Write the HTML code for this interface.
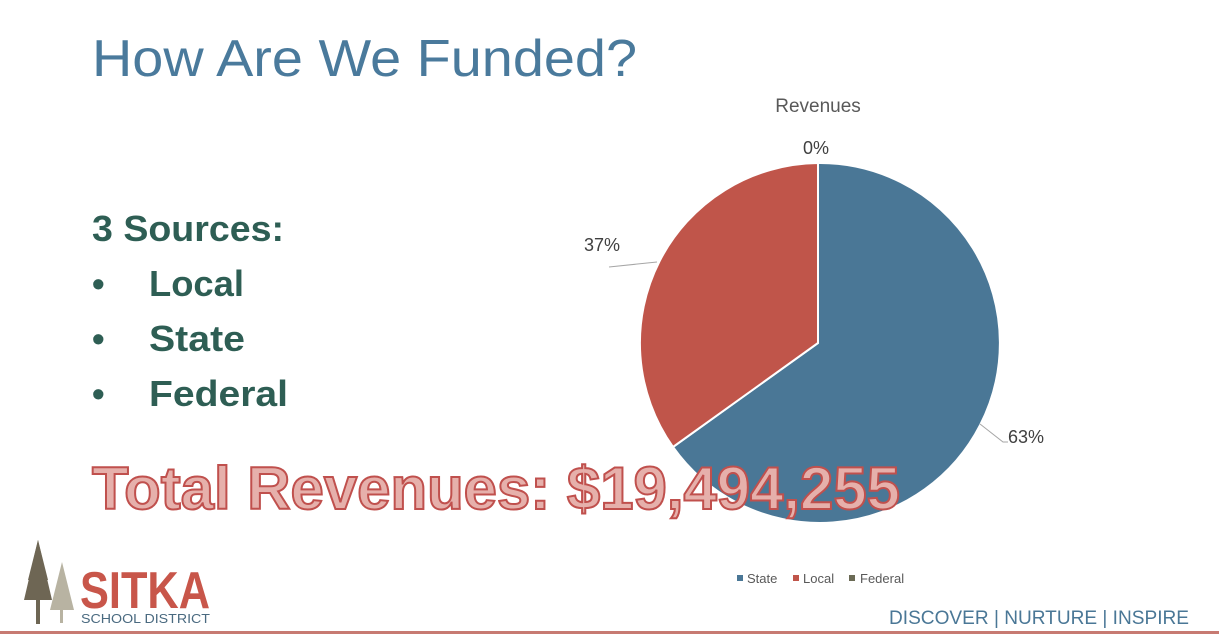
<!DOCTYPE html>
<html><head><meta charset="utf-8"><style>
html,body{margin:0;padding:0;background:#fff;}
body{width:1219px;height:634px;overflow:hidden;position:relative;font-family:"Liberation Sans",sans-serif;}
</style></head><body>
<svg width="1219" height="634" viewBox="0 0 1219 634" style="position:absolute;left:0;top:0">
<text x="92" y="76" font-family="Liberation Sans" font-size="52" fill="#4a7a9c" textLength="545" lengthAdjust="spacingAndGlyphs">How Are We Funded?</text>
<g font-family="Liberation Sans" font-weight="bold" font-size="36" fill="#2e5e54">
<text x="92" y="241" textLength="192" lengthAdjust="spacingAndGlyphs">3 Sources:</text>
<text x="92" y="296">•</text><text x="149" y="296" textLength="95" lengthAdjust="spacingAndGlyphs">Local</text>
<text x="92" y="351">•</text><text x="149" y="351" textLength="96" lengthAdjust="spacingAndGlyphs">State</text>
<text x="92" y="406">•</text><text x="149" y="406" textLength="139" lengthAdjust="spacingAndGlyphs">Federal</text>
</g>
<text x="818" y="112" text-anchor="middle" font-size="19" fill="#595959">Revenues</text>
<path d="M818,343 L818,163 A180,180 0 1 1 673,447 Z" fill="#4a7796" stroke="#fff" stroke-width="2"/>
<path d="M818,343 L673,447 A180,180 0 0 1 818,163 Z" fill="#c0554a" stroke="#fff" stroke-width="2"/>
<g font-size="18" fill="#404040">
<text x="803" y="154">0%</text>
<text x="584" y="251">37%</text>
<text x="1008" y="443">63%</text>
</g>
<polyline points="609,267 657,262" fill="none" stroke="#a6a6a6" stroke-width="1"/>
<polyline points="980,424 1003,442 1008,442" fill="none" stroke="#a6a6a6" stroke-width="1"/>
<text x="92" y="509" font-family="Liberation Sans" font-weight="bold" font-size="60" fill="#e6b0ab" stroke="#c0504d" stroke-width="2" textLength="808" lengthAdjust="spacingAndGlyphs">Total Revenues: $19,494,255</text>
<g font-size="13" fill="#595959">
<rect x="737" y="575" width="6" height="6" fill="#4a7796"/><text x="747" y="583">State</text>
<rect x="793" y="575" width="6" height="6" fill="#c0554a"/><text x="803" y="583">Local</text>
<rect x="849" y="575" width="6" height="6" fill="#6b6a55"/><text x="860" y="583">Federal</text>
</g>
<text x="889" y="624" font-size="19" fill="#4a7796" textLength="300" lengthAdjust="spacingAndGlyphs">DISCOVER  |  NURTURE  |  INSPIRE</text>
<!-- trees -->
<polygon points="38,540 52,600 24,600" fill="#6e6654"/>
<polygon points="38,540 48,580 28,580" fill="#6e6654"/>
<rect x="36" y="598" width="4" height="26" fill="#6e6654"/>
<polygon points="62,562 74,610 50,610" fill="#b8b3a2"/>
<rect x="60" y="608" width="3" height="15" fill="#b8b3a2"/>
<text x="80" y="608" font-family="Liberation Sans" font-weight="bold" font-size="52" fill="#c8564a" textLength="130" lengthAdjust="spacingAndGlyphs">SITKA</text>
<text x="81" y="623" font-size="13" fill="#4a6a80" textLength="129" lengthAdjust="spacingAndGlyphs">SCHOOL DISTRICT</text>
<rect x="0" y="631" width="1219" height="3" fill="#c77a72"/>
</svg>
</body></html>
